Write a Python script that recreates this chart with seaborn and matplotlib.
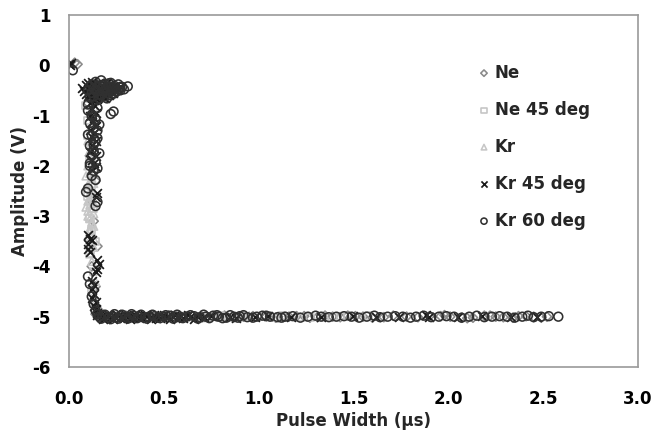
import matplotlib
matplotlib.use("Agg")
import matplotlib.pyplot as plt
import seaborn as sns
from matplotlib.ticker import FormatStrFormatter

# ---------------- data ----------------
series_names = ["Ne", "Ne 45 deg", "Kr", "Kr 45 deg", "Kr 60 deg"]

# Ne (diamonds)
ne_x = [0.03, 0.045, 0.12, 0.10, 0.13, 0.11, 0.14, 0.12, 0.13, 0.15, 0.12, 0.14, 0.13, 0.15, 0.14,
        0.15, 0.18,
        0.15, 0.17, 0.20, 0.22, 0.25, 0.27, 0.30, 0.33, 0.35, 0.38, 0.43, 0.48, 0.51, 0.54, 0.57,
        0.60, 0.65, 0.70, 0.74, 0.78, 0.82, 0.86, 0.92, 0.97, 1.04, 1.09, 1.16, 1.24, 1.31, 1.39,
        1.47, 1.55, 1.66, 1.78, 1.90, 2.01, 2.13, 2.25, 2.37, 2.45,
        1.13, 1.20, 1.27, 1.35, 1.43, 1.51, 1.60, 1.71, 1.84, 1.96,
        2.07, 2.19, 2.29, 2.41, 2.49, 1.98, 2.10, 2.22, 2.34, 2.52]
ne_y = [0.05, 0.02, -0.60, -0.75, -1.20, -1.80, -2.30, -2.70, -3.10, -3.60, -4.00, -4.40, -4.70, -4.85, -4.95,
        -0.70, -0.55,
        -4.98, -5.00, -5.02, -4.99, -5.01, -5.00, -4.98, -5.02, -5.00, -4.99, -5.01, -5.00, -5.02, -4.98, -5.00,
        -5.01, -4.99, -5.00, -5.02, -5.00, -4.98, -5.01, -5.00, -4.99, -5.00, -5.02, -5.00, -4.99, -5.01, -5.00,
        -4.98, -5.00, -5.01, -5.00, -4.99, -5.00, -5.02, -5.00, -4.99, -5.00,
        -5.01, -4.99, -5.02, -4.98, -5.01, -4.99, -5.02, -4.98, -5.01, -4.99,
        -5.02, -4.98, -5.01, -4.99, -5.02, -4.97, -5.03, -4.98, -5.02, -5.00]

# Ne 45 deg (squares)
ne45_x = [0.10, 0.12, 0.11, 0.13, 0.12, 0.10, 0.13, 0.11, 0.12, 0.14, 0.11, 0.13, 0.12, 0.14,
          0.13, 0.16, 0.09, 0.10,
          0.16, 0.19, 0.23, 0.26, 0.29, 0.32, 0.36, 0.39, 0.43, 0.47, 0.51, 0.55, 0.60, 0.64,
          0.68, 0.72, 0.76, 0.80, 0.85, 0.91, 1.00, 1.12, 1.27, 1.43, 1.58]
ne45_y = [-1.40, -1.60, -1.90, -2.10, -2.40, -2.60, -2.85, -3.05, -3.30, -3.50, -3.75, -4.10, -4.50, -4.80,
          -0.90, -0.65, -0.80, -1.10,
          -4.97, -5.00, -5.02, -4.99, -5.00, -5.01, -4.98, -5.00, -5.02, -5.00, -4.99, -5.01, -5.00, -4.98,
          -5.00, -5.02, -5.00, -4.99, -5.01, -5.00, -5.00, -4.98, -5.01, -5.00, -4.99]

# Kr (triangles)
kr_x = [0.10, 0.11, 0.12, 0.10, 0.11, 0.12, 0.13, 0.10, 0.11, 0.12, 0.10, 0.11, 0.12, 0.13,
        0.10, 0.11, 0.12, 0.13, 0.11, 0.12, 0.10, 0.11, 0.12, 0.13, 0.11, 0.12, 0.14, 0.13,
        0.09, 0.10, 0.12, 0.11, 0.13, 0.10, 0.12, 0.11, 0.09, 0.13,
        0.15, 0.18, 0.21, 0.24, 0.28, 0.31, 0.35, 0.39, 0.42, 0.46, 0.50, 0.54, 0.58, 0.62,
        0.66, 0.70, 0.73, 0.77, 0.81, 0.84, 0.89, 0.95, 1.08, 1.22, 1.35]
kr_y = [-1.50, -1.70, -1.85, -2.00, -2.15, -2.25, -2.35, -2.45, -2.55, -2.62, -2.70, -2.78, -2.85, -2.95,
        -3.00, -3.05, -3.12, -3.20, -3.28, -3.35, -3.40, -3.48, -3.55, -3.62, -3.75, -3.90, -4.30, -4.70,
        -2.20, -2.38, -2.50, -2.68, -2.75, -2.90, -3.15, -3.25, -2.82, -3.45,
        -4.98, -5.00, -5.02, -4.99, -5.01, -5.00, -4.98, -5.00, -5.02, -5.00, -4.99, -5.01, -5.00, -4.98,
        -5.00, -5.02, -5.00, -4.99, -5.01, -5.00, -5.00, -4.98, -5.01, -5.00, -4.99]

# Kr 45 deg (crosses)
kr45_x = [0.0, 0.01, 0.005,
          0.07, 0.08, 0.09, 0.10, 0.10, 0.11, 0.12, 0.12, 0.13, 0.14, 0.14, 0.15, 0.16, 0.16, 0.17,
          0.18, 0.18, 0.19, 0.20, 0.20, 0.21, 0.22, 0.23, 0.24, 0.25, 0.12, 0.13, 0.11, 0.15, 0.17,
          0.09, 0.11, 0.13, 0.15, 0.17, 0.19, 0.21, 0.23, 0.14, 0.16,
          0.18, 0.20, 0.22, 0.24, 0.26, 0.10, 0.12, 0.15, 0.19, 0.27,
          0.11, 0.13, 0.12, 0.14, 0.11, 0.13, 0.12, 0.14, 0.11, 0.13, 0.12, 0.14, 0.12, 0.13, 0.11,
          0.14, 0.12, 0.13, 0.14, 0.12, 0.15, 0.14,
          0.10, 0.11, 0.10, 0.12, 0.10, 0.11, 0.15, 0.16, 0.15, 0.14, 0.12, 0.13, 0.12, 0.13, 0.12,
          0.14, 0.13, 0.14, 0.15,
          0.15, 0.17, 0.19, 0.20, 0.22, 0.24, 0.26, 0.28, 0.29, 0.31, 0.33, 0.36, 0.38, 0.41, 0.44,
          0.46, 0.49, 0.52, 0.55, 0.58, 0.61, 0.64, 0.68, 0.71, 0.75, 0.85, 0.88, 0.98, 1.05, 1.17,
          1.33, 1.50, 1.62, 1.74, 1.88, 1.90, 2.05, 2.18, 2.33, 2.47,
          0.16, 0.18, 0.21, 0.23, 0.25, 0.27, 0.30, 0.32, 0.35, 0.37,
          0.40, 0.43, 0.45, 0.48, 0.50, 0.53, 0.56, 0.60, 0.63, 0.66]
kr45_y = [0.03, 0.05, 0.00,
          -0.45, -0.52, -0.40, -0.47, -0.36, -0.55, -0.42, -0.33, -0.50, -0.38, -0.60, -0.45, -0.35, -0.55, -0.42,
          -0.50, -0.64, -0.38, -0.47, -0.58, -0.40, -0.52, -0.44, -0.50, -0.42, -0.65, -0.70, -0.62, -0.68, -0.60,
          -0.58, -0.46, -0.56, -0.58, -0.48, -0.53, -0.60, -0.55, -0.45, -0.62,
          -0.44, -0.36, -0.48, -0.42, -0.47, -0.62, -0.52, -0.40, -0.66, -0.44,
          -0.75, -0.80, -0.88, -0.95, -1.00, -1.05, -1.12, -1.20, -1.28, -1.35, -1.42, -1.50, -1.58, -1.65, -1.72,
          -1.80, -1.88, -1.95, -2.02, -2.08, -2.55, -2.62,
          -3.38, -3.45, -3.55, -3.48, -3.65, -3.72, -3.88, -3.95, -4.05, -4.12, -4.30, -4.38, -4.45, -4.55, -4.62,
          -4.70, -4.78, -4.85, -4.92,
          -4.97, -5.00, -5.02, -4.99, -5.01, -5.00, -4.98, -5.00, -5.02, -5.00, -4.99, -5.01, -5.00, -4.98, -5.00,
          -5.02, -5.00, -4.99, -5.01, -5.00, -4.98, -5.00, -5.01, -5.00, -4.99, -5.00, -5.02, -5.00, -4.99, -5.01,
          -5.00, -4.98, -5.00, -5.01, -4.97, -5.00, -5.00, -4.99, -5.00, -5.01,
          -4.95, -5.04, -4.96, -5.04, -4.95, -5.03, -4.96, -5.04, -4.96, -5.03,
          -4.97, -5.04, -4.96, -5.03, -4.97, -5.04, -4.96, -5.03, -4.97, -5.04]

# Kr 60 deg (circles)
kr60_x = [0.02,
          0.10, 0.11, 0.12, 0.13, 0.14, 0.15, 0.16, 0.17, 0.18, 0.19, 0.20, 0.21, 0.22, 0.23, 0.24,
          0.25, 0.26, 0.27, 0.28, 0.31, 0.19, 0.16, 0.22, 0.22, 0.235,
          0.12, 0.14, 0.16, 0.18, 0.20, 0.22, 0.24, 0.26, 0.15, 0.17,
          0.19, 0.21, 0.23, 0.25, 0.13, 0.18, 0.20, 0.27, 0.29, 0.11,
          0.10, 0.12, 0.14, 0.11, 0.13, 0.15, 0.12, 0.14, 0.11, 0.13, 0.12, 0.14, 0.11, 0.13, 0.12,
          0.10, 0.15, 0.12, 0.16, 0.10, 0.15, 0.13, 0.16, 0.11, 0.15,
          0.10, 0.09, 0.14, 0.15, 0.14,
          0.10, 0.11, 0.12, 0.13, 0.14,
          0.16, 0.18, 0.21, 0.23, 0.25, 0.27, 0.30, 0.32, 0.34, 0.37, 0.40, 0.42, 0.45, 0.47, 0.50,
          0.53, 0.56, 0.59, 0.62, 0.66, 0.69, 0.72, 0.76, 0.79, 0.83, 0.87, 0.90, 0.94, 0.99, 1.02,
          1.06, 1.10, 1.14, 1.18, 1.22, 1.26, 1.30, 1.33, 1.37, 1.41, 1.45, 1.49, 1.53, 1.57, 1.61,
          1.64, 1.68, 1.72, 1.76, 1.80, 1.83, 1.87, 1.91, 1.95, 1.99, 2.03, 2.07, 2.11, 2.15, 2.19,
          2.23, 2.27, 2.31, 2.35, 2.39, 2.42, 2.45, 2.49, 2.53, 2.58,
          0.15, 0.17, 0.19, 0.22, 0.24, 0.26, 0.28, 0.31, 0.33, 0.36,
          0.38, 0.41, 0.44, 0.48, 0.51, 0.55, 0.57, 0.60, 0.64, 0.68,
          0.71, 0.74, 0.78, 0.81, 0.85, 0.89, 0.92, 0.97, 1.04, 1.12]
kr60_y = [-0.10,
          -0.50, -0.42, -0.38, -0.46, -0.33, -0.52, -0.40, -0.30, -0.47, -0.37, -0.55, -0.43, -0.35, -0.50, -0.41,
          -0.46, -0.38, -0.50, -0.43, -0.42, -0.62, -0.66, -0.60, -0.97, -0.92,
          -0.55, -0.48, -0.58, -0.52, -0.45, -0.53, -0.56, -0.49, -0.42, -0.60,
          -0.50, -0.36, -0.46, -0.52, -0.62, -0.40, -0.66, -0.44, -0.48, -0.64,
          -0.90, -0.98, -1.08, -1.15, -1.25, -1.30, -1.40, -1.52, -1.60, -1.70, -1.80, -1.92, -2.00, -2.10, -2.20,
          -0.78, -0.85, -1.02, -1.18, -1.38, -1.45, -1.58, -1.75, -1.95, -2.05,
          -2.45, -2.52, -2.28, -2.72, -2.80,
          -4.20, -4.35, -4.60, -4.75, -4.88,
          -5.00, -4.98, -5.01, -5.00, -5.02, -4.99, -5.00, -5.01, -4.98, -5.00, -5.02, -5.00, -4.99, -5.01, -5.00,
          -4.98, -5.00, -5.02, -5.00, -4.99, -5.01, -5.00, -4.98, -5.00, -5.02, -5.00, -4.99, -5.01, -5.00, -4.98,
          -5.00, -5.01, -5.00, -4.99, -5.02, -5.00, -4.98, -5.00, -5.01, -5.00, -4.99, -5.00, -5.02, -5.00, -4.98,
          -5.01, -5.00, -4.99, -5.00, -5.02, -5.00, -4.98, -5.01, -5.00, -4.99, -5.00, -5.02, -5.00, -4.98, -5.01,
          -5.00, -4.99, -5.00, -5.02, -5.00, -4.98, -5.01, -5.00, -4.99, -5.00,
          -4.95, -5.04, -4.96, -5.05, -4.95, -5.04, -4.96, -5.04, -4.95, -5.03,
          -4.96, -5.04, -4.96, -5.03, -4.97, -5.04, -4.96, -5.03, -4.97, -5.04,
          -4.96, -5.03, -4.97, -5.03, -4.97, -5.02, -4.97, -5.02, -4.98, -5.02]

x_ticks = [0.0, 0.5, 1.0, 1.5, 2.0, 2.5, 3.0]
y_ticks = [1, 0, -1, -2, -3, -4, -5, -6]

# ---------------- style ----------------
sns.set_theme(style="white")
plt.rcParams["font.family"] = ["DejaVu Sans"]
plt.rcParams["font.weight"] = "bold"
plt.rcParams["axes.unicode_minus"] = False

fig = plt.figure(figsize=(6.54, 4.40), dpi=100)
ax = fig.add_axes([0.1055, 0.166, 0.87, 0.8])

specs = [
    (ne_x, ne_y, "D", "#8a8a8a", 22),
    (ne45_x, ne45_y, "s", "#c4c4c4", 28),
    (kr_x, kr_y, "^", "#c6c6c6", 32),
    (kr45_x, kr45_y, "x", "#1a1a1a", 40),
    (kr60_x, kr60_y, "o", "#303030", 40),
]
for name, (xs, ys, mk, col, sz) in zip(series_names, specs):
    if mk == "x":
        sns.scatterplot(x=xs, y=ys, marker=mk, color=col, s=sz, linewidth=1.25,
                        label=name, ax=ax)
    else:
        sns.scatterplot(x=xs, y=ys, marker=mk, color=col, facecolor="none",
                        edgecolor=col, s=sz, linewidth=1.15, label=name, ax=ax)

ax.set_xlim(0, 3.0)
ax.set_ylim(-6, 1)
ax.set_xticks(x_ticks)
ax.set_yticks(y_ticks)
ax.xaxis.set_major_formatter(FormatStrFormatter("%.1f"))

for sp in ax.spines.values():
    sp.set_visible(True)
    sp.set_color("#9a9a9a")
    sp.set_linewidth(1.2)

ax.tick_params(axis="both", direction="out", length=4.5, width=1, color="#9a9a9a",
               labelsize=12, labelcolor="black")
ax.tick_params(axis="x", pad=12)
ax.tick_params(axis="y", pad=9)
for lab in ax.get_xticklabels() + ax.get_yticklabels():
    lab.set_fontweight("bold")

ax.set_xlabel("Pulse Width (µs)", fontsize=12, fontweight="bold", labelpad=3)
ax.set_ylabel("Amplitude (V)", fontsize=12, fontweight="bold", labelpad=2)

leg = ax.legend(loc="upper left", bbox_to_anchor=(0.703, 0.881), frameon=False,
                fontsize=12, labelspacing=1.14, handletextpad=0.15, handlelength=1.0,
                markerscale=0.7, borderaxespad=0)
for t in leg.get_texts():
    t.set_fontweight("bold")

fig.savefig("out.png", dpi=100)
